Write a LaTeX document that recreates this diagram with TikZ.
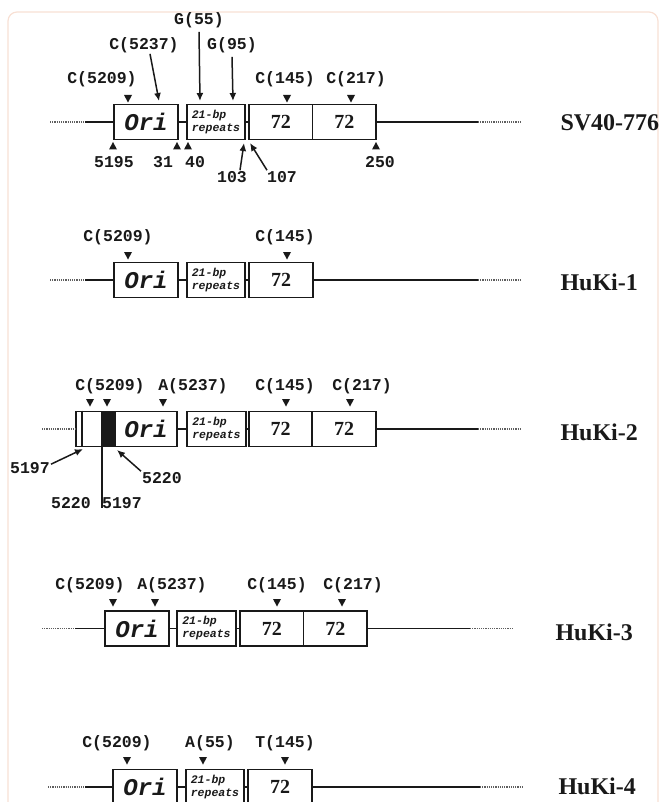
\documentclass[tikz,border=0pt]{standalone}
\usepackage{fontspec}
\setmainfont{Liberation Serif}
\setmonofont{Liberation Mono}
\usetikzlibrary{arrows.meta}
\definecolor{framepeach}{RGB}{248,224,212}
\definecolor{ink}{RGB}{25,25,25}

\begin{document}
\begin{tikzpicture}[x=1pt,y=-1pt,
  box/.style={draw=ink,line width=1.8pt,minimum height=35,inner sep=0pt},
  line/.style={draw=ink,line width=1.5pt},
  tail/.style={draw=ink!70,line width=1.2pt,densely dotted},
  ptr/.style={-{Latex[length=8pt,width=7pt]},draw=ink,line width=1.5pt},
  mut/.style={font=\ttfamily\bfseries\fontsize{16.5}{18}\selectfont,text=ink,inner sep=1pt},
  ntpos/.style={mut},
  ori/.style={font=\ttfamily\bfseries\itshape\fontsize{24}{26}\selectfont,text=ink},
  rep/.style={font=\ttfamily\bfseries\itshape\fontsize{11.5}{13}\selectfont,align=left,text=ink},
  enh/.style={font=\bfseries\fontsize{20}{22}\selectfont,text=ink},
  strain/.style={font=\bfseries\fontsize{24}{26}\selectfont,text=ink,anchor=west},
]
\useasboundingbox (0,0) rectangle (661,802);
\draw[framepeach,line width=1.2pt,rounded corners=9pt] (8,12) rectangle (658,840);

% SV40-776
\node[box,ori,minimum width=64] (ori1) at (146,122) {Ori};
\node[box,rep,minimum width=58] (rep1) at (216,122) {21-bp\\repeats};
\node[box,enh,minimum width=63.5] (ea1) at (280.75,122) {72};
\node[box,enh,minimum width=63.5] (eb1) at (344.25,122) {72};
\coordinate (w1) at (50,122);
\coordinate (s1) at (85,122);
\coordinate (t1) at (478,122);
\coordinate (e1) at (522,122);
\draw[tail] (w1) -- (s1);
\draw[line] (s1) -- (ori1);
\draw[line] (ori1) -- (rep1);
\draw[line] (rep1) -- (ea1);
\draw[line] (eb1) -- (t1);
\draw[tail] (t1) -- (e1);
\node[strain] (sv776) at (557,123) {SV40-776};
\node[mut] (c5209a) at (102,79) {C(5209)};
\node[mut] (c5237a) at (144,45) {C(5237)};
\node[mut] (g55) at (199,20) {G(55)};
\node[mut] (g95) at (232,45) {G(95)};
\node[mut] (c145a) at (285,79) {C(145)};
\node[mut] (c217a) at (356,79) {C(217)};
\coordinate (h5237) at (159,101);
\coordinate (h55) at (200,101);
\coordinate (h95) at (233,101);
\draw[ptr] ([xshift=6pt]c5237a.south) -- (h5237);
\draw[ptr] ([yshift=-3pt]g55.south) -- (h55);
\draw[ptr] ([yshift=-3pt]g95.south) -- (h95);
\foreach \x in {128,287,351}
  \fill[ink] (\x-4,95) -- ++(8,0) -- ++(-4,7.5) -- cycle;
\foreach \x in {113,177,188,376}
  \fill[ink] (\x-4,149.5) -- ++(8,0) -- ++(-4,-7.5) -- cycle;
\node[ntpos] (p5195) at (114,162) {5195};
\node[ntpos] (p31) at (163,162) {31};
\node[ntpos] (p40) at (195,162) {40};
\node[ntpos] (p250) at (380,162) {250};
\node[ntpos] (p103) at (232,177) {103};
\node[ntpos] (p107) at (282,177) {107};
\coordinate (h103) at (244,143);
\coordinate (h107) at (250,143);
\draw[ptr] ([xshift=8pt]p103.north) -- (h103);
\draw[ptr] ([xshift=-15pt]p107.north) -- (h107);

% HuKi-1
\node[box,ori,minimum width=64] (ori2) at (146,280) {Ori};
\node[box,rep,minimum width=58] (rep2) at (216,280) {21-bp\\repeats};
\node[box,enh,minimum width=64] (ea2) at (281,280) {72};
\coordinate (w2) at (50,280);
\coordinate (s2) at (85,280);
\coordinate (t2) at (478,280);
\coordinate (e2) at (522,280);
\draw[tail] (w2) -- (s2);
\draw[line] (s2) -- (ori2);
\draw[line] (ori2) -- (rep2);
\draw[line] (rep2) -- (ea2);
\draw[line] (ea2) -- (t2);
\draw[tail] (t2) -- (e2);
\node[strain] (huki1) at (557,282) {HuKi-1};
\node[mut] (c5209b) at (118,237) {C(5209)};
\node[mut] (c145b) at (285,237) {C(145)};
\foreach \x in {128,287}
  \fill[ink] (\x-4,252) -- ++(8,0) -- ++(-4,7.5) -- cycle;

% HuKi-2
\node[box,minimum width=101] (ori3) at (126.5,429) {};
\fill[ink] ([xshift=26pt]ori3.north west) rectangle ([xshift=41pt]ori3.south west);
\draw[line] ([xshift=7pt]ori3.north west) -- ([xshift=7pt]ori3.south west);
\node[ori] (oritxt3) at (146,429) {Ori};
\node[box,rep,minimum width=59] (rep3) at (216.5,429) {21-bp\\repeats};
\node[box,enh,minimum width=63] (ea3) at (280.5,429) {72};
\node[box,enh,minimum width=64] (eb3) at (344,429) {72};
\coordinate (w3) at (42,429);
\coordinate (t3) at (478,429);
\coordinate (e3) at (522,429);
\draw[tail] (w3) -- (ori3);
\draw[line] (ori3) -- (rep3);
\draw[line] (rep3) -- (ea3);
\draw[line] (eb3) -- (t3);
\draw[tail] (t3) -- (e3);
\node[strain] (huki2) at (557,432) {HuKi-2};
\node[mut] (c5209c) at (110,386) {C(5209)};
\node[mut] (a5237a) at (193,386) {A(5237)};
\node[mut] (c145c) at (285,386) {C(145)};
\node[mut] (c217b) at (362,386) {C(217)};
\foreach \x in {90,107,163,286,350}
  \fill[ink] (\x-4,399) -- ++(8,0) -- ++(-4,7.5) -- cycle;
\node[ntpos] (p5197a) at (30,468) {5197};
\node[ntpos] (p5220a) at (162,478) {5220};
\node[ntpos] (p5220b) at (71,503) {5220};
\node[ntpos] (p5197b) at (122,503) {5197};
\coordinate (h5197) at (83,449);
\coordinate (h5220) at (117,450);
\coordinate (v3) at (102,508);
\draw[ptr] ([yshift=-3pt]p5197a.north east) -- (h5197);
\draw[ptr] (p5220a.north west) -- (h5220);
\draw[line] (ori3.south west -| v3) -- (v3);

% HuKi-3
\node[box,ori,minimum width=64] (ori4) at (137,628.5) {Ori};
\node[box,rep,minimum width=59] (rep4) at (206.5,628.5) {21-bp\\repeats};
\node[box,enh,minimum width=63.5] (ea4) at (271.75,628.5) {72};
\node[box,enh,minimum width=63.5] (eb4) at (335.25,628.5) {72};
\coordinate (w4) at (42,628.5);
\coordinate (s4) at (75,628.5);
\coordinate (t4) at (470,628.5);
\coordinate (e4) at (513,628.5);
\draw[tail] (w4) -- (s4);
\draw[line] (s4) -- (ori4);
\draw[line] (ori4) -- (rep4);
\draw[line] (rep4) -- (ea4);
\draw[line] (eb4) -- (t4);
\draw[tail] (t4) -- (e4);
\node[strain] (huki3) at (552,632) {HuKi-3};
\node[mut] (c5209d) at (90,585) {C(5209)};
\node[mut] (a5237b) at (172,585) {A(5237)};
\node[mut] (c145d) at (277,585) {C(145)};
\node[mut] (c217c) at (353,585) {C(217)};
\foreach \x in {113,155,277,342}
  \fill[ink] (\x-4,599) -- ++(8,0) -- ++(-4,7.5) -- cycle;

% HuKi-4
\node[box,ori,minimum width=64] (ori5) at (145,787) {Ori};
\node[box,rep,minimum width=58] (rep5) at (215,787) {21-bp\\repeats};
\node[box,enh,minimum width=64] (ea5) at (280,787) {72};
\coordinate (w5) at (48,787);
\coordinate (s5) at (85,787);
\coordinate (t5) at (480,787);
\coordinate (e5) at (523,787);
\draw[tail] (w5) -- (s5);
\draw[line] (s5) -- (ori5);
\draw[line] (ori5) -- (rep5);
\draw[line] (rep5) -- (ea5);
\draw[line] (ea5) -- (t5);
\draw[tail] (t5) -- (e5);
\node[strain] (huki4) at (555,786) {HuKi-4};
\node[mut] (c5209e) at (117,743) {C(5209)};
\node[mut] (a55) at (210,743) {A(55)};
\node[mut] (t145) at (285,743) {T(145)};
\foreach \x in {127,203,285}
  \fill[ink] (\x-4,757) -- ++(8,0) -- ++(-4,7.5) -- cycle;
\end{tikzpicture}
\end{document}
